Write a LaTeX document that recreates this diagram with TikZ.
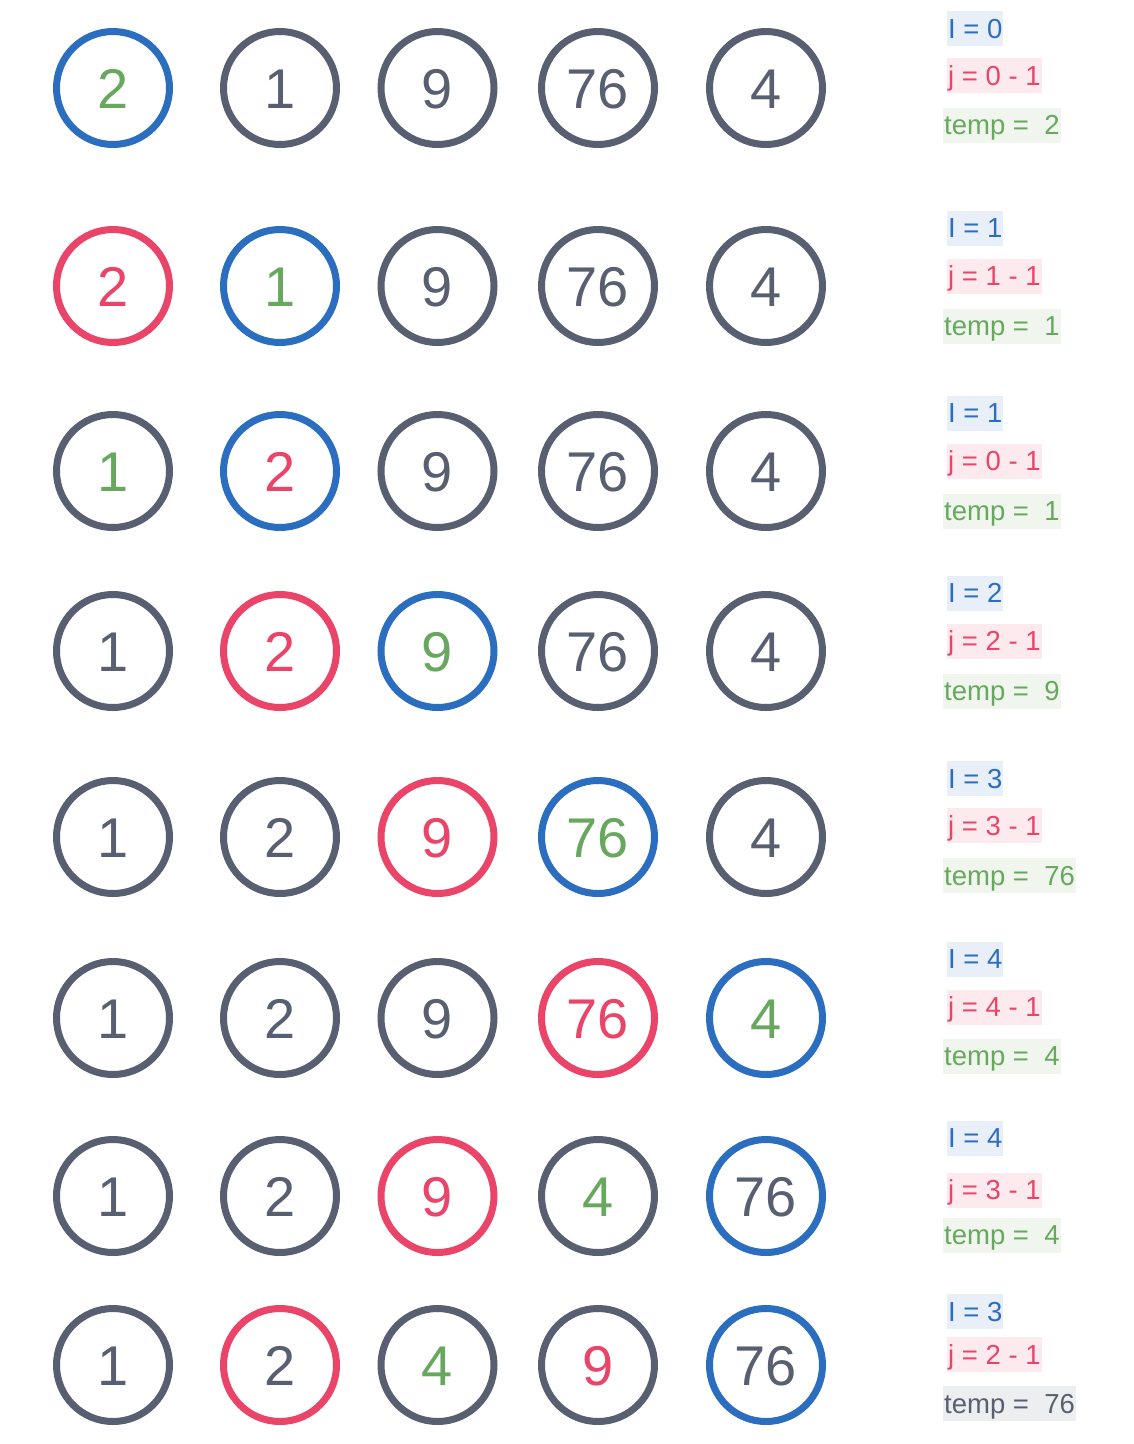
\documentclass[tikz,border=0pt]{standalone}
\usepackage{fontspec}
\setmainfont{Liberation Sans}
\definecolor{cblue}{HTML}{2B6DBF}
\definecolor{cred}{HTML}{EA4468}
\definecolor{cgreen}{HTML}{67A85E}
\definecolor{cgray}{HTML}{585F70}
\definecolor{bblue}{HTML}{E8EFF8}
\definecolor{bred}{HTML}{FDEAEE}
\definecolor{bgreen}{HTML}{F0F6EE}
\definecolor{bgray}{HTML}{EDEEF0}
\tikzset{
  cell/.style={circle, draw=cgray, text=cgray, line width=7pt, minimum size=113pt, inner sep=0pt,
    font=\fontsize{56}{56}\selectfont, text height=40pt, text depth=0pt},
  rb/.style={draw=cblue}, rr/.style={draw=cred},
  tg/.style={text=cgreen}, tr/.style={text=cred},
  lab/.style={anchor=west, inner xsep=1pt, inner ysep=0pt, text height=27pt, text depth=8pt,
    font=\fontsize{27.5}{27.5}\selectfont},
  labi/.style={lab, fill=bblue, text=cblue},
  labj/.style={lab, fill=bred, text=cred},
  labt/.style={lab, fill=bgreen, text=cgreen},
  labg/.style={lab, fill=bgray, text=cgray},
}
\begin{document}
\begin{tikzpicture}[x=1pt,y=-1pt]
\useasboundingbox[fill=white] (0,0) rectangle (1134,1444);
% row 1
\node[cell,rb,tg] (r1c1) at (113,88) {2};
\node[cell] (r1c2) at (280,88) {1};
\node[cell] (r1c3) at (437.5,88) {9};
\node[cell] (r1c4) at (598,88) {76};
\node[cell] (r1c5) at (766,88) {4};
\node[labi] (r1i) at (947,28.5) {I = 0};
\node[labj] (r1j) at (947,75.5) {j = 0 - 1};
\node[labt] (r1t) at (943,125) {temp =\ \ 2};
% row 2
\node[cell,rr,tr] (r2c1) at (113,286) {2};
\node[cell,rb,tg] (r2c2) at (280,286) {1};
\node[cell] (r2c3) at (437.5,286) {9};
\node[cell] (r2c4) at (598,286) {76};
\node[cell] (r2c5) at (766,286) {4};
\node[labi] (r2i) at (947,228) {I = 1};
\node[labj] (r2j) at (947,276) {j = 1 - 1};
\node[labt] (r2t) at (943,326) {temp =\ \ 1};
% row 3
\node[cell,tg] (r3c1) at (113,471) {1};
\node[cell,rb,tr] (r3c2) at (280,471) {2};
\node[cell] (r3c3) at (437.5,471) {9};
\node[cell] (r3c4) at (598,471) {76};
\node[cell] (r3c5) at (766,471) {4};
\node[labi] (r3i) at (947,413) {I = 1};
\node[labj] (r3j) at (947,461) {j = 0 - 1};
\node[labt] (r3t) at (943,511) {temp =\ \ 1};
% row 4
\node[cell] (r4c1) at (113,651) {1};
\node[cell,rr,tr] (r4c2) at (280,651) {2};
\node[cell,rb,tg] (r4c3) at (437.5,651) {9};
\node[cell] (r4c4) at (598,651) {76};
\node[cell] (r4c5) at (766,651) {4};
\node[labi] (r4i) at (947,593) {I = 2};
\node[labj] (r4j) at (947,641) {j = 2 - 1};
\node[labt] (r4t) at (943,691) {temp =\ \ 9};
% row 5
\node[cell] (r5c1) at (113,837) {1};
\node[cell] (r5c2) at (280,837) {2};
\node[cell,rr,tr] (r5c3) at (437.5,837) {9};
\node[cell,rb,tg] (r5c4) at (598,837) {76};
\node[cell] (r5c5) at (766,837) {4};
\node[labi] (r5i) at (947,778.5) {I = 3};
\node[labj] (r5j) at (947,825.5) {j = 3 - 1};
\node[labt] (r5t) at (943,875.5) {temp =\ \ 76};
% row 6
\node[cell] (r6c1) at (113,1018) {1};
\node[cell] (r6c2) at (280,1018) {2};
\node[cell] (r6c3) at (437.5,1018) {9};
\node[cell,rr,tr] (r6c4) at (598,1018) {76};
\node[cell,rb,tg] (r6c5) at (766,1018) {4};
\node[labi] (r6i) at (947,959) {I = 4};
\node[labj] (r6j) at (947,1007) {j = 4 - 1};
\node[labt] (r6t) at (943,1056) {temp =\ \ 4};
% row 7
\node[cell] (r7c1) at (113,1196) {1};
\node[cell] (r7c2) at (280,1196) {2};
\node[cell,rr,tr] (r7c3) at (437.5,1196) {9};
\node[cell,tg] (r7c4) at (598,1196) {4};
\node[cell,rb] (r7c5) at (766,1196) {76};
\node[labi] (r7i) at (947,1138) {I = 4};
\node[labj] (r7j) at (947,1190) {j = 3 - 1};
\node[labt] (r7t) at (943,1235) {temp =\ \ 4};
% row 8
\node[cell] (r8c1) at (113,1365) {1};
\node[cell,rr] (r8c2) at (280,1365) {2};
\node[cell,tg] (r8c3) at (437.5,1365) {4};
\node[cell,tr] (r8c4) at (598,1365) {9};
\node[cell,rb] (r8c5) at (766,1365) {76};
\node[labi] (r8i) at (947,1311.5) {I = 3};
\node[labj] (r8j) at (947,1354.5) {j = 2 - 1};
\node[labg] (r8t) at (943,1403.5) {temp =\ \ 76};
\end{tikzpicture}
\end{document}
